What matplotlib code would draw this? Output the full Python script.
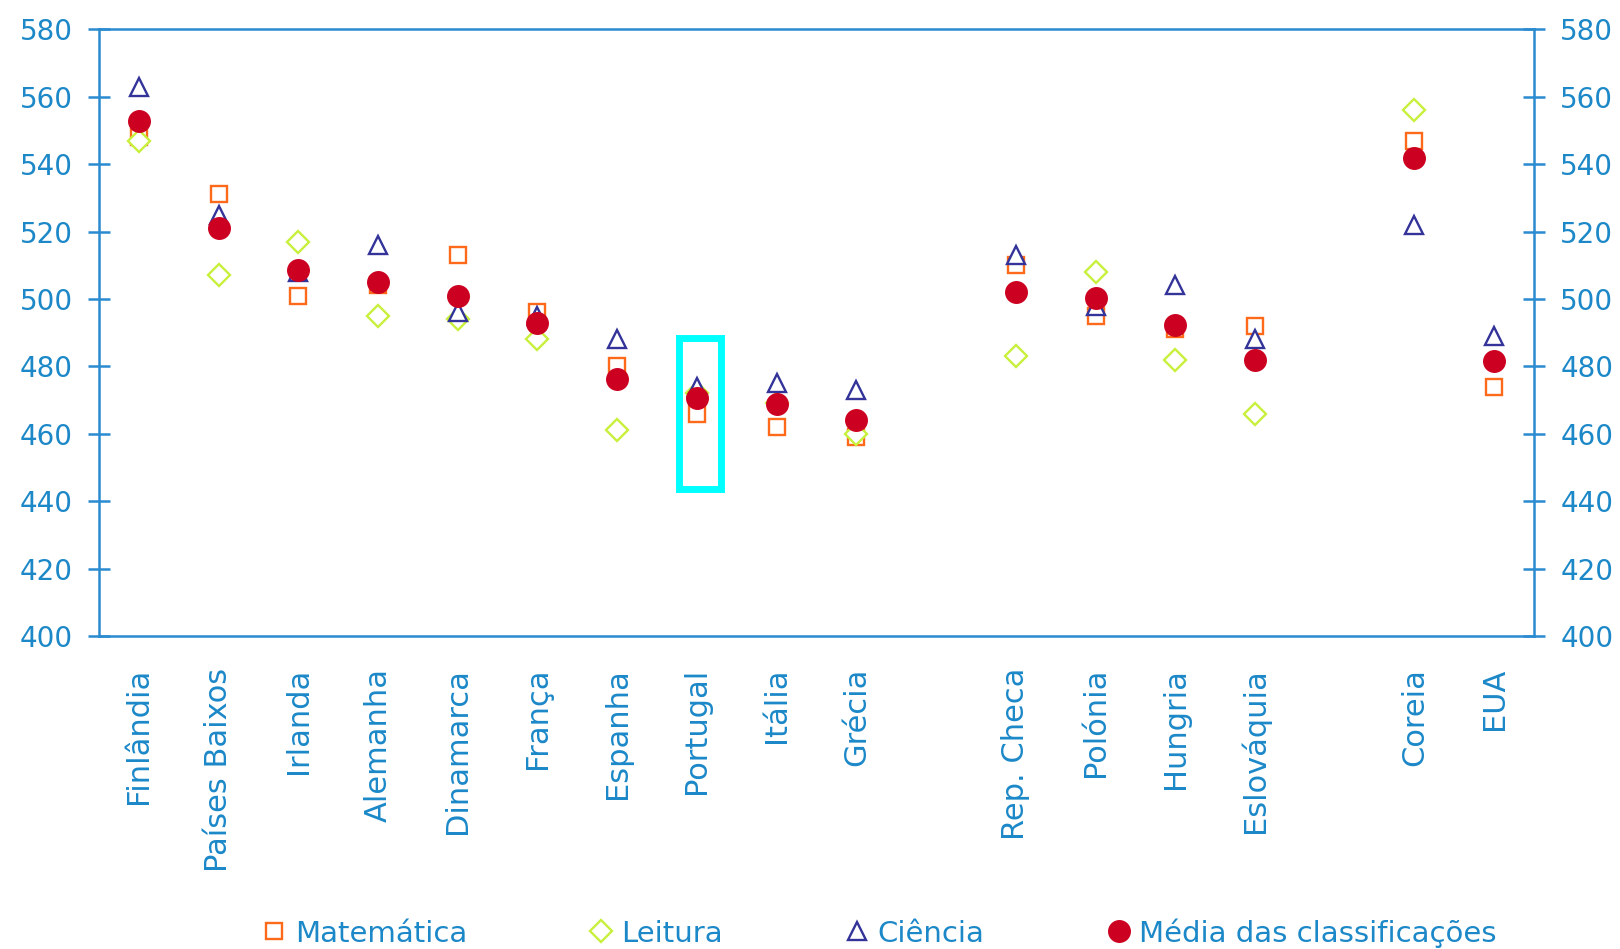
"""PISA 2006 scores by country: Matemática, Leitura, Ciência and their mean."""

import matplotlib

matplotlib.use("Agg")
import matplotlib.patches as mpatches
import matplotlib.pyplot as plt
import numpy as np
from matplotlib.lines import Line2D

# Empty strings are blank slots on the x axis
countries = ["Finlândia", "Países Baixos", "Irlanda", "Alemanha", "Dinamarca",
             "França", "Espanha", "Portugal", "Itália", "Grécia", "",
             "Rep. Checa", "Polónia", "Hungria", "Eslováquia", "",
             "Coreia", "EUA"]
matematica = [548, 531, 501, 504, 513, 496, 480, 466, 462, 459, np.nan,
              510, 495, 491, 492, np.nan, 547, 474]
leitura = [547, 507, 517, 495, 494, 488, 461, 472, 469, 460, np.nan,
           483, 508, 482, 466, np.nan, 556, np.nan]
ciencia = [563, 525, 508, 516, 496, 495, 488, 474, 475, 473, np.nan,
           513, 498, 504, 488, np.nan, 522, 489]
media = [552.7, 521.0, 508.7, 505.0, 501.0, 493.0, 476.3, 470.7, 468.7, 464.0,
         np.nan, 502.0, 500.3, 492.3, 482.0, np.nan, 541.7, 481.5]
highlight = "Portugal"

BLUE = "#2a8bd0"
TEXT = "#1c88c8"
C_MAT = "#ff6a1a"
C_LEI = "#c8f03c"
C_CIE = "#333399"
C_MED = "#cc0020"

plt.rcParams.update({
    "font.family": "DejaVu Sans",
    "font.size": 20,
})

fig = plt.figure(figsize=(16.2, 9.49), dpi=100)
ax = fig.add_axes([0.0611, 0.3298, 0.8858, 0.6393])

x = np.arange(len(countries))
ax.plot(x, matematica, ls="none", marker="s", ms=11, mfc="white",
        mec=C_MAT, mew=1.7, zorder=3)
ax.plot(x, leitura, ls="none", marker="D", ms=11, mfc="white",
        mec=C_LEI, mew=1.7, zorder=3)
ax.plot(x, ciencia, ls="none", marker="^", ms=13, mfc="white",
        mec=C_CIE, mew=1.7, zorder=3)
ax.plot(x, media, ls="none", marker="o", ms=15.5, mfc=C_MED,
        mec=C_MED, zorder=4)

# cyan box around Portugal
ip = countries.index(highlight)
ax.add_patch(mpatches.Rectangle((ip - 0.23, 443.5), 0.53, 45.0, fill=False,
                                edgecolor="#00ffff", lw=5, zorder=5))

ax.set_xlim(-0.5, len(countries) - 0.5)
ax.set_ylim(400, 580)
ax.set_yticks(np.arange(400, 581, 20))
ax.set_xticks(x)
ax.set_xticklabels(countries, rotation=90, va="top", ha="center",
                   fontsize=22, color=TEXT)

for sp in ax.spines.values():
    sp.set_color(BLUE)
    sp.set_linewidth(1.8)

ax.tick_params(axis="y", which="both", direction="inout", length=16,
               width=1.8, color=BLUE, labelcolor=TEXT, labelsize=20,
               left=True, right=True, labelleft=True, labelright=True, pad=11)
ax.tick_params(axis="x", length=0, pad=23)

handles = [
    Line2D([], [], ls="none", marker="s", ms=11, mfc="white", mec=C_MAT,
           mew=1.7, label="Matemática"),
    Line2D([], [], ls="none", marker="D", ms=11, mfc="white", mec=C_LEI,
           mew=1.7, label="Leitura"),
    Line2D([], [], ls="none", marker="^", ms=13, mfc="white", mec=C_CIE,
           mew=1.7, label="Ciência"),
    Line2D([], [], ls="none", marker="o", ms=15.5, mfc=C_MED, mec=C_MED,
           label="Média das classificações"),
]
leg = fig.legend(handles=handles, loc="center", bbox_to_anchor=(0.543, 0.017),
                 ncol=4, frameon=False, fontsize=21, handlelength=0.8,
                 handletextpad=0.3, columnspacing=4.2, borderpad=0)
for t in leg.get_texts():
    t.set_color(TEXT)

fig.savefig("out.png", dpi=100)
